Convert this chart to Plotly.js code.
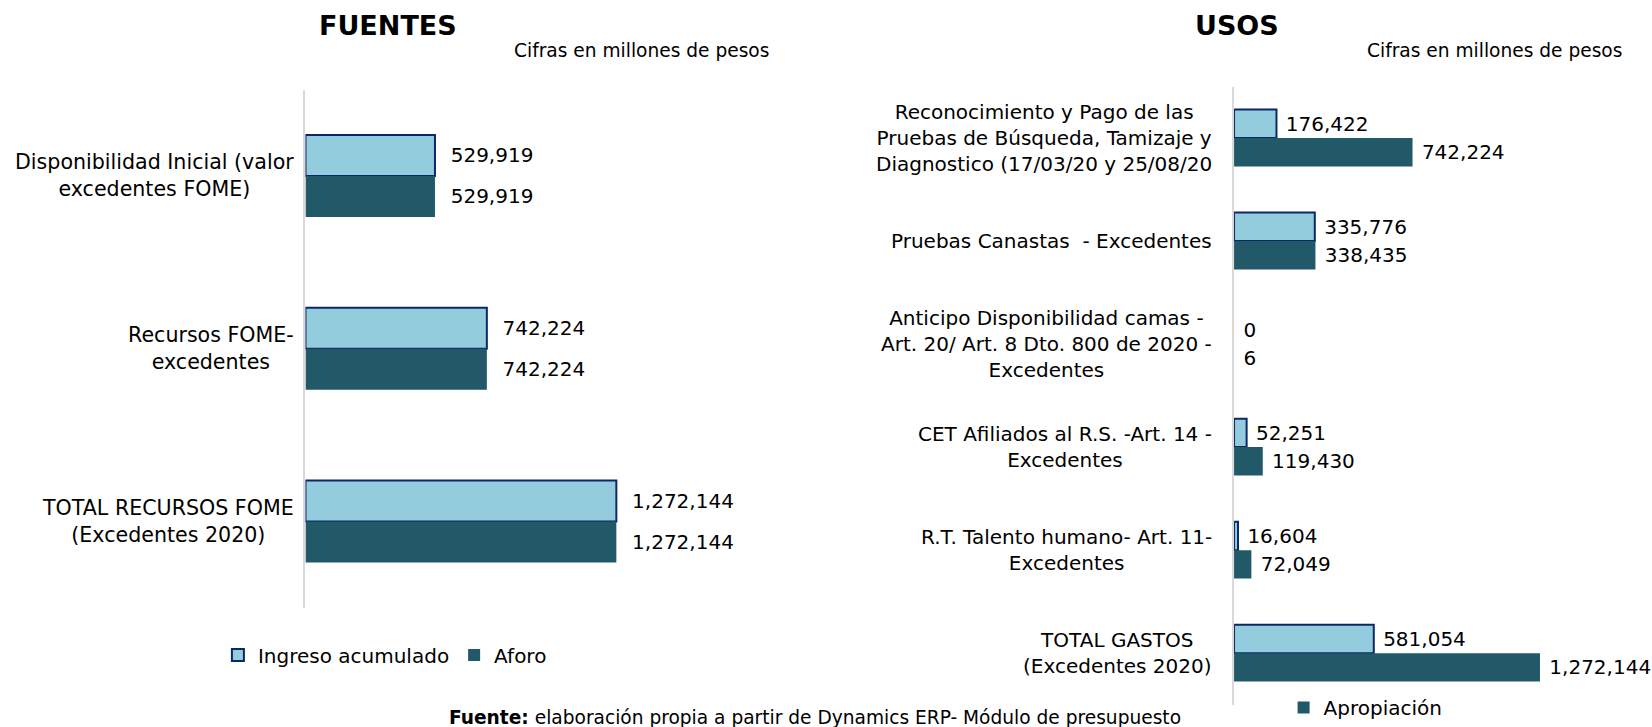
<!DOCTYPE html>
<html>
<head>
<meta charset="utf-8">
<script src="https://cdn.plot.ly/plotly-3.0.1.min.js"></script>
<style>
  html, body { margin: 0; padding: 0; background: #fff; }
  #chart { width: 1652px; height: 727px; }
</style>
</head>
<body>
<div id="chart"></div>
<script>
// Fuentes (left chart)
const fuentesCats = [
    'Disponibilidad Inicial (valor<br>excedentes FOME)',
    'Recursos FOME-<br>excedentes',
    'TOTAL RECURSOS FOME<br>(Excedentes 2020)'
];
const fuentesIngreso = [529919, 742224, 1272144];
const fuentesAforo = [529919, 742224, 1272144];

// Usos (right chart)
const usosCats = [
    'Reconocimiento y Pago de las<br>Pruebas de Búsqueda, Tamizaje y<br>Diagnostico (17/03/20 y 25/08/20',
    'Pruebas Canastas \u00a0- Excedentes',
    'Anticipo Disponibilidad camas -<br>Art. 20/ Art. 8 Dto. 800 de 2020 -<br>Excedentes',
    'CET Afiliados al R.S. -Art. 14 -<br>Excedentes',
    'R.T. Talento humano- Art. 11-<br>Excedentes',
    'TOTAL GASTOS<br>(Excedentes 2020)'
];
const usosEjecucion = [176422, 335776, 0, 52251, 16604, 581054];
const usosApropiacion = [742224, 338435, 6, 119430, 72049, 1272144];

const lightColor = '#93CDDD';
const darkColor = '#215968';
const navy = '#0C2766';
const font = 'DejaVu Sans, Verdana, sans-serif';

function barTrace(name, cats, values, color, axes, opts) {
    return Object.assign({
        type: 'bar',
        orientation: 'h',
        name: name,
        y: cats,
        x: values,
        xaxis: axes[0],
        yaxis: axes[1],
        marker: { color: color },
        textposition: 'outside',
        constraintext: 'none',
        cliponaxis: false,
        textfont: { family: font, size: 20, color: '#000' },
        hoverinfo: 'none'
    }, opts);
}

// outlined light bars, no outline when the bar has no length
function outlined(values) {
    return { color: lightColor, line: { color: navy, width: values.map(v => v > 0 ? 2 : 0) } };
}

const traces = [
    barTrace('Ingreso acumulado', fuentesCats, fuentesIngreso, lightColor, ['x', 'y'], {
        marker: outlined(fuentesIngreso),
        width: 0.2375, offset: -0.2375,
        texttemplate: '\u00a0\u00a0%{x:,}',
        legend: 'legend'
    }),
    barTrace('Aforo', fuentesCats, fuentesAforo, darkColor, ['x', 'y'], {
        width: 0.2375, offset: 0,
        texttemplate: '\u00a0\u00a0%{x:,}',
        legend: 'legend'
    }),
    barTrace('Ejecución', usosCats, usosEjecucion, lightColor, ['x2', 'y2'], {
        marker: outlined(usosEjecucion),
        width: 0.276, offset: -0.276,
        texttemplate: '\u00a0%{x:,}',
        showlegend: false
    }),
    barTrace('Apropiación', usosCats, usosApropiacion, darkColor, ['x2', 'y2'], {
        width: 0.276, offset: 0,
        texttemplate: '\u00a0%{x:,}',
        legend: 'legend2'
    })
];

// Category labels, centred lines like the original
const catAnnotations = [];
fuentesCats.forEach(c => catAnnotations.push({
    xref: 'x domain', yref: 'y', x: 0, y: c, xshift: -9,
    xanchor: 'right', yanchor: 'middle', align: 'center',
    text: c, showarrow: false, font: { family: font, size: 20.6, color: '#000' }
}));
usosCats.forEach(c => catAnnotations.push({
    xref: 'x2 domain', yref: 'y2', x: 0, y: c, xshift: -20,
    xanchor: 'right', yanchor: 'middle', align: 'center',
    text: c, showarrow: false, font: { family: font, size: 20, color: '#000' }
}));

const layout = {
    width: 1652,
    height: 727,
    margin: { l: 0, r: 0, t: 0, b: 0 },
    paper_bgcolor: 'white',
    plot_bgcolor: 'white',
    font: { family: font, size: 20, color: '#000' },
    barmode: 'overlay',
    hovermode: false,
    xaxis: { domain: [0.1849, 0.4216], range: [0, 1600000], visible: false, fixedrange: true },
    yaxis: {
        domain: [0.1638, 0.8768], type: 'category', autorange: 'reversed',
        showticklabels: false, ticks: '', showgrid: false, zeroline: false,
        showline: true, linecolor: '#d9d9d9', linewidth: 2, fixedrange: true
    },
    xaxis2: { domain: [0.747, 0.9508], range: [0, 1400000], visible: false, anchor: 'y2', fixedrange: true },
    yaxis2: {
        domain: [0.0307, 0.881], type: 'category', autorange: 'reversed', anchor: 'x2',
        showticklabels: false, ticks: '', showgrid: false, zeroline: false,
        showline: true, linecolor: '#d9d9d9', linewidth: 2, fixedrange: true
    },
    legend: {
        orientation: 'h', x: 0.233, xanchor: 'center', y: 0.099, yanchor: 'middle',
        font: { family: font, size: 20, color: '#000' }, traceorder: 'normal'
    },
    legend2: {
        orientation: 'h', x: 0.777, xanchor: 'left', y: 0, yanchor: 'bottom',
        font: { family: font, size: 20, color: '#000' }
    },
    annotations: catAnnotations.concat([
        { xref: 'paper', yref: 'paper', x: 0.2349, y: 0.9656, xanchor: 'center', yanchor: 'middle',
          text: '<b>FUENTES</b>', showarrow: false, font: { family: font, size: 27, color: '#000' } },
        { xref: 'paper', yref: 'paper', x: 0.3886, y: 0.930, xanchor: 'center', yanchor: 'middle',
          text: 'Cifras en millones de pesos', showarrow: false, font: { family: font, size: 18.6, color: '#000' } },
        { xref: 'paper', yref: 'paper', x: 0.7488, y: 0.9656, xanchor: 'center', yanchor: 'middle',
          text: '<b>USOS</b>', showarrow: false, font: { family: font, size: 27, color: '#000' } },
        { xref: 'paper', yref: 'paper', x: 0.9044, y: 0.930, xanchor: 'center', yanchor: 'middle',
          text: 'Cifras en millones de pesos', showarrow: false, font: { family: font, size: 18.6, color: '#000' } },
        { xref: 'paper', yref: 'paper', x: 0.4933, y: 0.0124, xanchor: 'center', yanchor: 'middle',
          text: '<b>Fuente:</b> elaboración propia a partir de Dynamics ERP- Módulo de presupuesto', showarrow: false,
          font: { family: font, size: 18.6, color: '#000' } }
    ])
};

Plotly.newPlot('chart', traces, layout, { displayModeBar: false, staticPlot: true });
</script>
</body>
</html>
